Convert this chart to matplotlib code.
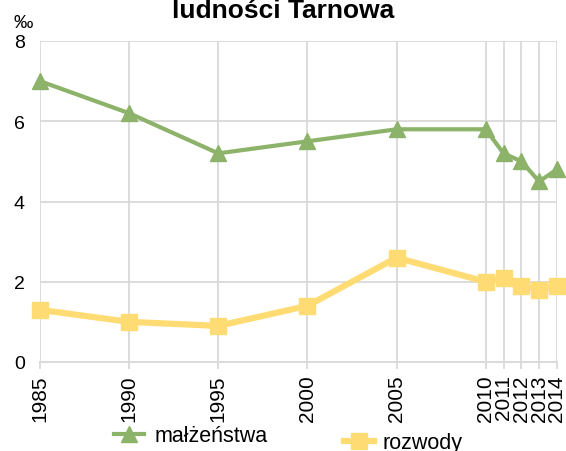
import matplotlib
matplotlib.use("Agg")
import matplotlib.pyplot as plt

plt.rcParams['font.family'] = ['Liberation Sans', 'DejaVu Sans']

years = [1985, 1990, 1995, 2000, 2005, 2010, 2011, 2012, 2013, 2014]
malzenstwa = [7.0, 6.2, 5.2, 5.5, 5.8, 5.8, 5.2, 5.0, 4.5, 4.8]
rozwody = [1.3, 1.0, 0.9, 1.4, 2.6, 2.0, 2.1, 1.9, 1.8, 1.9]
yticks = [0, 2, 4, 6, 8]
title = "ludności Tarnowa"
unit = "‰"
labels = ["małżeństwa", "rozwody"]

W, H = 566, 452
fig = plt.figure(figsize=(W/100, H/100), dpi=100)
ax = fig.add_axes([40/W, 1-363/H, (557-40)/W, (363-42)/H])

green = "#8cb369"
yellow = "#ffdc73"
grid = "#d9d9d9"

l1, = ax.plot(years, malzenstwa, color=green, lw=3, marker="^", ms=11.5,
              mec=green, mfc=green, clip_on=False, zorder=3, label=labels[0])
l2, = ax.plot(years, rozwody, color=yellow, lw=4.5, marker="s", ms=12,
              mec=yellow, mfc=yellow, clip_on=False, zorder=3, label=labels[1])

ax.set_xlim(1985, 2014)
ax.set_ylim(0, 8)
ax.set_xticks(years)
ax.set_xticklabels([str(y) for y in years], rotation=90, fontsize=15)
ax.set_yticks(yticks)
ax.set_yticklabels([str(v) for v in yticks], fontsize=14)
ax.grid(True, color=grid, lw=1.3)
ax.set_axisbelow(True)
for s in ["top", "right", "left"]:
    ax.spines[s].set_visible(False)
ax.spines["bottom"].set_color(grid)
ax.spines["bottom"].set_linewidth(1.3)
ax.tick_params(axis="x", length=5, color=grid, width=1.3, pad=4)
ax.tick_params(axis="y", length=0, pad=11)

fig.text(283/W, 1-18/H, title, ha="center", va="baseline", fontsize=19, fontweight="bold")
fig.text(23/W, 1-24/H, unit, ha="center", va="center", fontsize=14)

leg1 = fig.legend(handles=[l1], loc="center left", bbox_to_anchor=(114/W, 1-437/H),
                  frameon=False, fontsize=15.5, handlelength=1.4, handletextpad=0.5,
                  borderaxespad=0, borderpad=0)
leg2 = fig.legend(handles=[l2], loc="center left", bbox_to_anchor=(344/W, 1-444/H),
                  frameon=False, fontsize=15.5, handlelength=1.4, handletextpad=0.4,
                  borderaxespad=0, borderpad=0)

fig.savefig("out.png", dpi=100)
